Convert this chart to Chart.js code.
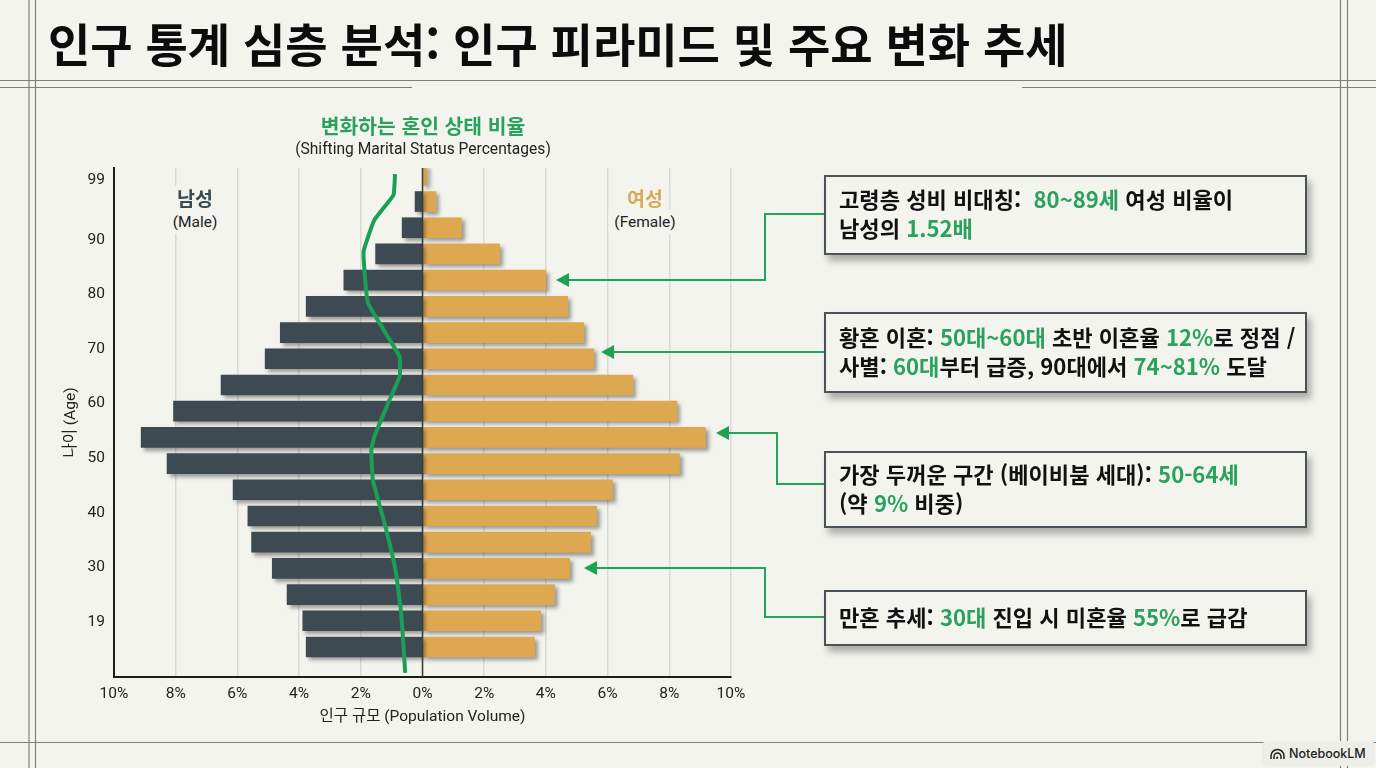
<!DOCTYPE html>
<html lang="ko">
<head>
<meta charset="utf-8">
<title>인구 통계 심층 분석</title>
<script src="https://cdn.jsdelivr.net/npm/chart.js@4"></script>
<style>
    html, body { margin: 0; padding: 0; background: #f4f4ef; }
    body { position: relative; width: 1376px; height: 768px; overflow: hidden;
           font-family: Roboto, "Noto Sans CJK KR", sans-serif; color: #1c1c1c; }
    #pyramid { position: absolute; left: 0; top: 0; }
    #frame, #arrows { position: absolute; left: 0; top: 0; }
    h1 { position: absolute; left: 48px; top: 7px; margin: 0; font: 700 46px/70px "Noto Sans CJK KR", sans-serif;
         color: #0c0c0c; white-space: nowrap; }
    .center { position: absolute; transform: translateX(-50%); white-space: nowrap; text-align: center; }
    .ko { font-family: "Noto Sans CJK KR", sans-serif; font-weight: 700; }
    .green { color: #2aa25e; }
    .side { background: #f4f4ef; padding: 0 6px; line-height: 24px; }
    .callout { position: absolute; left: 824px; width: 483px; box-sizing: border-box; padding: 0 0 4px 13px;
               background: #f4f4ef; border: 2px solid #4a5357; box-shadow: 4px 6px 7px rgba(0,0,0,.3);
               font: 700 22.1px/29px "Noto Sans CJK KR", sans-serif; color: #111; display: flex; flex-direction: column;
               justify-content: center; white-space: nowrap; }
    #badge { position: absolute; left: 1262px; top: 741px; width: 113px; height: 25px; background: #eeeee9;
             border-radius: 5px; font: 500 12.5px/25px Inter, sans-serif; color: #222; padding-left: 27px; box-sizing: border-box; }
    #badge svg { position: absolute; left: 8px; top: 7px; }
</style>
</head>
<body>
<svg id="frame" width="1376" height="768" fill="none" stroke="#7d807e" stroke-width="1.2">
    <path d="M0 80.5H1376M0 87.500H412M1022 87.500H1376M0 742.500H1376"/>
    <path d="M29 0V768M35.500 0V768M1340.500 0V768M1347.500 0V768"/>
</svg>
<canvas id="pyramid" width="1376" height="768"></canvas>
<h1>인구 통계 심층 분석: 인구 피라미드 및 주요 변화 추세</h1>

<div class="center ko green" style="left:423px;top:110px;font-size:20.400px;line-height:30px">변화하는 혼인 상태 비율</div>
<div class="center" style="left:423px;top:138px;font-size:15.600px;line-height:22px;color:#222">(Shifting Marital Status Percentages)</div>

<div class="center side" style="left:195px;top:186px"><span class="ko" style="font-size:19.500px;color:#3d4a52">남성</span></div>
<div class="center side" style="left:195px;top:210px;font-size:15.500px;color:#222">(Male)</div>
<div class="center side" style="left:645px;top:186px"><span class="ko" style="font-size:19.500px;color:#dba858">여성</span></div>
<div class="center side" style="left:645px;top:210px;font-size:15.500px;color:#222">(Female)</div>

<svg id="arrows" width="1376" height="768" fill="none" stroke="#22a45a" stroke-width="2">
    <path d="M824 214H765V280H566"/><path d="M556 280L569 273V287Z" fill="#1fa055" stroke="none"/>
    <path d="M824 352H611"/><path d="M601 352L614 345V359Z" fill="#1fa055" stroke="none"/>
    <path d="M824 484H777V433H726"/><path d="M716 433L729 426V440Z" fill="#1fa055" stroke="none"/>
    <path d="M824 617H765V568H594"/><path d="M584 568L597 561V575Z" fill="#1fa055" stroke="none"/>
</svg>

<div class="callout" style="top:175px;height:80px">
    <div>고령층 성비 비대칭: &nbsp;<span class="green">80~89세</span> 여성 비율이</div>
    <div>남성의 <span class="green">1.52배</span></div>
</div>
<div class="callout" style="top:312px;height:81px">
    <div>황혼 이혼: <span class="green">50대~60대</span> 초반 이혼율 <span class="green">12%</span>로 정점 /</div>
    <div>사별: <span class="green">60대</span>부터 급증, 90대에서 <span class="green">74~81%</span> 도달</div>
</div>
<div class="callout" style="top:451px;height:77px">
    <div>가장 두꺼운 구간 (베이비붐 세대): <span class="green">50-64세</span></div>
    <div>(약 <span class="green">9%</span> 비중)</div>
</div>
<div class="callout" style="top:590px;height:56px">
    <div>만혼 추세: <span class="green">30대</span> 진입 시 미혼율 <span class="green">55%</span>로 급감</div>
</div>

<div id="badge">
    <svg width="15" height="12" viewBox="0 0 15 12" fill="none" stroke="#222" stroke-width="1.5">
        <path d="M1 11V8a6 6 0 0 1 13 0v3M4 11V8.500a3.500 3.500 0 0 1 7 0V11M7 11V9.500a1 1 0 0 1 1 0"/>
    </svg>
    NotebookLM
</div>

<script>
// Oldest band first, one value per bar row
const maleShare = [0, 0.24, 0.66, 1.52, 2.55, 3.77, 4.61, 5.10, 6.53, 8.07, 9.12, 8.28, 6.14, 5.66, 5.54, 4.87, 4.39, 3.88, 3.77];
const femaleShare = [0.14, 0.44, 1.26, 2.50, 4.00, 4.71, 5.23, 5.55, 6.82, 8.25, 9.17, 8.33, 6.16, 5.64, 5.45, 4.77, 4.28, 3.83, 3.63];

// Marital status curve, plotted on the male side
const maritalShare = [0.89, 0.94, 1.56, 1.91, 1.77, 0.74, 0.74, 1.07, 1.56, 1.66, 1.61, 1.23, 0.875, 0.69, 0.56];
const maritalRow = [18.05, 17.25, 16.3, 15.09, 13.13, 11.08, 10.32, 9.43, 8.03, 7.52, 6.37, 4.73, 2.94, 1.3, -0.99];

// Age tick labels and where they sit on their own axis
const ageLabels = ['19', '30', '40', '50', '60', '70', '80', '90', '99'];
const ageSlots = [0, 1, 2, 3, 4, 5, 6, 7, 8.1];

const rowCount = maleShare.length;
const toRows = (values, sign) => values.map((v, i) => ({ x: sign * v, y: rowCount - 1 - i }));

// soft shadow under the bars and the dark zero line on top of them
const pyramidDecor = {
    id: 'pyramidDecor',
    beforeDatasetDraw(chart, args) {
        if (args.meta.type !== 'bar') return;
        const ctx = chart.ctx;
        ctx.save();
        ctx.shadowColor = 'rgba(0, 0, 0, 0.38)';
        ctx.shadowBlur = 4;
        ctx.shadowOffsetX = 3;
        ctx.shadowOffsetY = 3;
    },
    afterDatasetDraw(chart, args) {
        if (args.meta.type === 'bar') chart.ctx.restore();
    },
    afterDatasetsDraw(chart) {
        const { ctx, chartArea, scales } = chart;
        const zero = scales.x.getPixelForValue(0);
        ctx.save();
        ctx.strokeStyle = '#3a3a36';
        ctx.lineWidth = 1.5;
        ctx.beginPath();
        ctx.moveTo(zero, chartArea.top);
        ctx.lineTo(zero, chartArea.bottom);
        ctx.stroke();
        ctx.restore();
    }
};

window.addEventListener('DOMContentLoaded', () => {
    const ctx = document.getElementById('pyramid').getContext('2d');
    const tickFont = { family: 'Roboto, "Noto Sans CJK KR"', size: 15.5 };

    new Chart(ctx, {
        type: 'bar',
        plugins: [pyramidDecor],
        data: {
            datasets: [
                {
                    type: 'line',
                    label: '혼인 상태 비율',
                    indexAxis: 'y',
                    data: maritalShare.map((v, i) => ({ x: -v, y: maritalRow[i] })),
                    borderColor: '#1b9e55',
                    borderWidth: 4,
                    tension: 0.1,
                    pointRadius: 0,
                    yAxisID: 'yRow',
                    order: 0
                },
                {
                    label: '남성',
                    data: toRows(maleShare, -1),
                    backgroundColor: '#3e4a51',
                    yAxisID: 'yRow',
                    order: 1
                },
                {
                    label: '여성',
                    data: toRows(femaleShare, 1),
                    backgroundColor: '#dea850',
                    yAxisID: 'yRow',
                    order: 1
                }
            ]
        },
        options: {
            indexAxis: 'y',
            responsive: false,
            animation: false,
            grouped: false,
            barThickness: 20,
            layout: { padding: { left: 62, right: 645, top: 168, bottom: 36 } },
            plugins: { legend: { display: false }, tooltip: { enabled: false } },
            scales: {
                x: {
                    type: 'linear',
                    min: -10,
                    max: 10,
                    border: { display: true, color: '#1c1c1c', width: 2 },
                    grid: {
                        drawTicks: false,
                        color: (c) => c.tick.value === -10 ? 'rgba(0,0,0,0)' : '#d9d9d4',
                        lineWidth: 1.5
                    },
                    ticks: {
                        stepSize: 2,
                        padding: 8,
                        maxRotation: 0,
                        color: '#222',
                        font: tickFont,
                        callback: (v) => Math.abs(v) + '%'
                    },
                    title: {
                        display: true,
                        text: '인구 규모 (Population Volume)',
                        color: '#222',
                        font: tickFont,
                        padding: { top: 0, bottom: 6 }
                    },
                    afterFit: (scale) => { scale.height = 55; }
                },
                yRow: {
                    type: 'linear',
                    display: false,
                    offset: false,
                    min: -1.145,
                    max: 18.28
                },
                yAge: {
                    type: 'linear',
                    position: 'left',
                    offset: false,
                    min: -1.009,
                    max: 8.317,
                    border: { display: true, color: '#1c1c1c', width: 2 },
                    grid: { display: false, drawTicks: false, offset: false },
                    afterBuildTicks: (scale) => { scale.ticks = ageSlots.map((v) => ({ value: v })); },
                    ticks: {
                        padding: 9,
                        autoSkip: false,
                        color: '#222',
                        font: tickFont,
                        callback: (v, i) => ageLabels[i]
                    },
                    title: {
                        display: true,
                        text: '나이 (Age)',
                        color: '#222',
                        font: tickFont,
                        padding: { top: 0, bottom: 0 }
                    },
                    afterFit: (scale) => { scale.width = 52; }
                }
            }
        }
    });
});
</script>
</body>
</html>
